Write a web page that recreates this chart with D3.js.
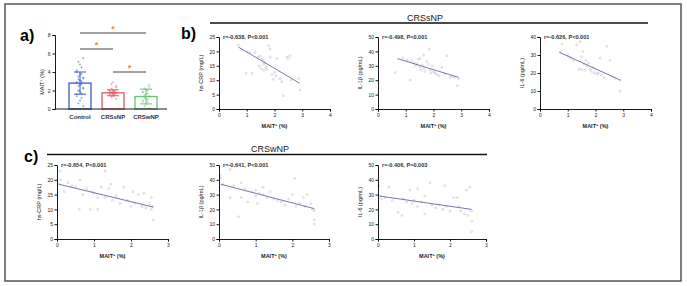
<!DOCTYPE html>
<html><head><meta charset="utf-8">
<script src="https://cdn.jsdelivr.net/npm/d3@7"></script>
<style>body{margin:0;background:#fff}svg{display:block;font-family:"Liberation Sans",Arial,sans-serif}</style>
</head><body><svg id="c" width="687" height="286"></svg>
<script>
// ---------- DATA ----------
const groups = ["Control", "CRSsNP", "CRSwNP"];
const groupMeans = [2.8, 1.75, 1.35];
const groupSD = [1.2, 0.32, 0.8];
const controlVals = [0.3,0.6,0.9,1.2,1.4,1.6,1.7,1.9,2.0,2.2,2.3,2.5,2.6,2.7,2.8,2.9,3.0,3.1,3.2,3.3,3.4,3.5,3.7,3.8,4.0,4.2,4.5,4.8,5.1,5.5];
const crssnpVals = [1.1,1.3,1.4,1.5,1.5,1.6,1.6,1.7,1.7,1.7,1.8,1.8,1.8,1.9,1.9,2.0,2.0,2.1,2.2,2.3,2.5,2.7,2.9];
const crswnpVals = [0.1,0.3,0.5,0.7,0.8,0.9,1.0,1.1,1.2,1.3,1.4,1.5,1.6,1.7,1.8,1.9,2.0,2.1,2.2,2.4,2.6];
const barTicks = [0, 2, 4, 6, 8];
const sigPairs = [[0, 2], [0, 1], [1, 2]];

const sNP_CRP = [[0.70,22.2],[0.82,20.5],[0.97,12.4],[1.18,12.4],[1.0,19.9],[1.12,19.6],[1.3,19.6],[1.4,18.0],[1.48,18.5],[1.55,17.2],[1.6,16.7],[1.6,15.5],[1.66,16.0],[1.62,13.5],[1.7,14.5],[1.72,13.8],[1.78,22.0],[1.84,20.8],[1.85,18.0],[1.9,12.0],[1.96,10.3],[2.0,12.8],[2.05,11.5],[2.08,17.5],[2.2,10.5],[2.26,9.5],[2.32,4.6],[2.45,18.0],[2.5,17.5],[2.55,18.5],[2.6,10.0],[2.87,10.6],[2.92,6.6],[1.45,15.0],[1.52,14.0]];
const sNP_IL1 = [[0.62,25.2],[0.9,35.5],[1.05,34],[1.16,20.1],[1.2,33],[1.3,32],[1.35,30],[1.4,31.5],[1.45,34.5],[1.5,29],[1.52,35],[1.55,27],[1.6,30.5],[1.64,37.5],[1.65,28],[1.7,26],[1.75,33],[1.82,31],[1.85,41.5],[1.88,27],[1.9,25],[1.95,30],[2.0,26],[2.05,25],[2.12,24],[2.2,23],[2.3,29],[2.4,24],[2.48,37],[2.6,22],[2.66,23],[2.75,22],[2.86,16.2],[2.9,21]];
const sNP_IL6 = [[0.72,31.5],[0.8,36.0],[1.0,30],[1.1,28.5],[1.2,27],[1.32,35.5],[1.44,37.4],[1.4,22],[1.5,29],[1.5,22],[1.55,32],[1.6,25],[1.62,21.5],[1.65,27],[1.7,24],[1.75,25.5],[1.8,22],[1.85,21],[1.9,23],[1.95,20],[2.0,22],[2.05,19.5],[2.1,20],[2.17,28.3],[2.2,19],[2.3,17.5],[2.41,34.8],[2.53,27],[2.6,18],[2.7,17],[2.89,16],[2.89,10]];
const wNP_CRP = [[0.05,18.5],[0.08,23],[0.1,20],[0.2,16],[0.3,19],[0.4,18],[0.5,17.5],[0.6,10],[0.62,20],[0.7,15],[0.8,17],[0.9,10],[0.95,16],[1.0,15.5],[1.1,10],[1.1,14],[1.2,17.5],[1.3,23],[1.3,14],[1.4,17],[1.45,18.5],[1.5,13],[1.6,14.5],[1.7,12],[1.8,17.5],[1.9,13],[2.0,11],[2.05,16],[2.1,12],[2.2,15],[2.3,11],[2.35,15.5],[2.4,10.5],[2.5,12],[2.55,14],[2.58,11],[2.6,6.5],[2.55,10]];
const wNP_IL1 = [[0.03,43],[0.05,41],[0.1,37],[0.3,47],[0.3,28],[0.4,36],[0.53,15],[0.6,38],[0.6,28],[0.7,34],[0.78,25],[0.9,32],[1.0,33],[1.0,29],[1.05,24],[1.1,31],[1.2,30],[1.2,35],[1.3,28],[1.4,32],[1.5,27],[1.6,26],[1.7,25],[1.8,23],[1.9,27],[2.0,30],[2.07,41],[2.1,22],[2.2,24],[2.3,28],[2.35,22],[2.4,30],[2.5,24],[2.55,20],[2.6,13],[2.6,10],[2.6,19]];
const wNP_IL6 = [[0.02,36],[0.05,29],[0.1,27],[0.2,28],[0.3,35],[0.4,26],[0.56,18],[0.66,16],[0.7,27],[0.8,25],[0.89,33],[0.95,24],[1.0,26],[1.1,34],[1.1,22],[1.2,25],[1.3,17],[1.3,29],[1.44,38],[1.5,23],[1.6,21],[1.7,23],[1.86,36],[1.8,20],[1.9,22],[2.0,19],[2.1,28],[2.2,28],[2.25,22],[2.3,19],[2.4,17],[2.46,33],[2.55,35],[2.5,16],[2.6,12],[2.6,5],[2.6,19]];

// fit lines [x1, y1, x2, y2] in data units
const fits = {
  b1: [0.7, 21.5, 2.9, 9.0], b2: [0.7, 35, 2.9, 22], b3: [0.7, 31.5, 2.9, 16],
  c1: [0.05, 18.5, 2.6, 10.8], c2: [0.05, 37, 2.6, 20.5], c3: [0.05, 29, 2.6, 20]
};
const stats = {
  b1: "r=-0.638, P<0.001", b2: "r=-0.498, P<0.001", b3: "r=-0.626, P<0.001",
  c1: "r=-0.654, P<0.001", c2: "r=-0.641, P<0.001", c3: "r=-0.406, P=0.003"
};
const yTitles = { CRP: "hs-CRP (mg/L)", IL1: "IL-1β (pg/mL)", IL6: "IL-6 (pg/mL)" };
const headers = ["CRSsNP", "CRSwNP"];

// ---------- DRAW ----------
const svg = d3.select("#c");
svg.append("rect").attr("x", 5).attr("y", 4).attr("width", 676).attr("height", 277)
  .attr("fill", "none").attr("stroke", "#555").attr("stroke-width", 1.5);

function styleAxis(g) {
  g.selectAll("path,line").attr("stroke", "#000").attr("stroke-width", 0.9);
  g.selectAll("text").attr("font-size", 5).attr("fill", "#222").attr("font-family", "Liberation Sans, Arial");
}

// Panel a
{
  const x0 = 55, x1 = 167, yTop = 35, yBot = 109;
  const x = d3.scalePoint().domain(groups).range([80, 146]);
  const y = d3.scaleLinear().domain([0, 8]).range([yBot, yTop]);
  const colors = ["#3a5bc7", "#e2575c", "#6cc07a"];
  const vals = [controlVals, crssnpVals, crswnpVals];
  const g = svg.append("g");
  groups.forEach((grp, i) => {
    const cx = x(grp);
    g.append("rect").attr("x", cx - 11).attr("width", 22).attr("y", y(groupMeans[i]))
      .attr("height", y(0) - y(groupMeans[i])).attr("fill", "#fff").attr("stroke", colors[i]).attr("stroke-width", 1.3);
    vals[i].forEach((v, k) => {
      const off = ((k % 5) - 2) * 1.6 * (k % 2 ? 1 : -1);
      g.append("path").attr("d", d3.symbol(d3.symbolCross, 3)())
        .attr("transform", `translate(${cx + off},${y(v)})`).attr("fill", colors[i]).attr("opacity", 0.55);
    });
    const hi = y(groupMeans[i] + groupSD[i]), lo = y(Math.max(0, groupMeans[i] - groupSD[i]));
    g.append("line").attr("x1", cx).attr("x2", cx).attr("y1", hi).attr("y2", lo).attr("stroke", colors[i]).attr("stroke-width", 1);
    [hi, lo].forEach(yy => g.append("line").attr("x1", cx - 6).attr("x2", cx + 6).attr("y1", yy).attr("y2", yy).attr("stroke", colors[i]).attr("stroke-width", 1));
  });
  const ay = g.append("g").attr("transform", `translate(${x0},0)`).call(d3.axisLeft(y).tickValues(barTicks).tickSize(2.5).tickPadding(2));
  styleAxis(ay);
  g.append("line").attr("x1", x0).attr("x2", x1).attr("y1", yBot).attr("y2", yBot).attr("stroke", "#000").attr("stroke-width", 0.9);
  groups.forEach(grp => g.append("text").attr("x", x(grp)).attr("y", 119).attr("text-anchor", "middle")
    .attr("font-size", 6).attr("font-weight", "bold").attr("fill", "#333").text(grp));
  g.append("text").attr("transform", `translate(44,${(yTop + yBot) / 2 + 10}) rotate(-90)`).attr("text-anchor", "middle")
    .attr("font-size", 5.5).attr("fill", "#222").html('MAIT<tspan baseline-shift="super" font-size="4">+</tspan> (%)');
  const levels = [33, 49, 72];
  sigPairs.forEach((p, j) => {
    const xa = x(groups[p[0]]), xb = x(groups[p[1]]);
    g.append("line").attr("x1", xa).attr("x2", xb).attr("y1", levels[j]).attr("y2", levels[j]).attr("stroke", "#444").attr("stroke-width", 1);
    g.append("text").attr("x", (xa + xb) / 2).attr("y", levels[j] - 1).attr("text-anchor", "middle")
      .attr("font-size", 9).attr("font-weight", "bold").attr("fill", "#f08a3a").text("*");
  });
  svg.append("text").attr("x", 20).attr("y", 41).attr("font-size", 16).attr("font-weight", "bold").text("a)");
}

function scatter(opt) {
  const x = d3.scaleLinear().domain([0, opt.xMax]).range([opt.ax, opt.ax + opt.w]);
  const y = d3.scaleLinear().domain([0, opt.yMax]).range([opt.yBot, opt.yTop]);
  const g = svg.append("g");
  g.selectAll("circle").data(opt.data).join("circle")
    .attr("cx", d => x(d[0])).attr("cy", d => y(d[1])).attr("r", 1.0)
    .attr("fill", "none").attr("stroke", "#c2c2c2").attr("stroke-width", 0.6);
  const f = opt.fit;
  g.append("line").attr("x1", x(f[0])).attr("y1", y(f[1])).attr("x2", x(f[2])).attr("y2", y(f[3]))
    .attr("stroke", "#6f7ea8").attr("stroke-width", 1);
  const axx = g.append("g").attr("transform", `translate(0,${opt.yBot})`).call(d3.axisBottom(x).ticks(opt.xMax).tickSize(2.5).tickPadding(1.5).tickFormat(d3.format("d")));
  styleAxis(axx);
  const axy = g.append("g").attr("transform", `translate(${opt.ax},0)`).call(d3.axisLeft(y).ticks(opt.yMax / opt.yStep).tickSize(2.5).tickPadding(1.5).tickFormat(d3.format("d")));
  styleAxis(axy);
  g.append("text").attr("x", opt.ax + 4).attr("y", opt.yTop + 2).attr("font-size", 5.6).attr("font-weight", "bold").attr("fill", "#333").text(opt.stat);
  g.append("text").attr("x", opt.ax + opt.w / 2).attr("y", opt.yBot + 19).attr("text-anchor", "middle")
    .attr("font-size", 5.5).attr("fill", "#222").attr("font-weight", "bold").html('MAIT<tspan baseline-shift="super" font-size="4">+</tspan> (%)');
  g.append("text").attr("transform", `translate(${opt.ax - 16},${(opt.yTop + opt.yBot) / 2}) rotate(-90)`).attr("text-anchor", "middle")
    .attr("font-size", 5.5).attr("fill", "#222").text(opt.yTitle);
}

// Panel b
svg.append("text").attr("x", 181).attr("y", 39).attr("font-size", 16).attr("font-weight", "bold").text("b)");
svg.append("text").attr("x", 425).attr("y", 21).attr("text-anchor", "middle").attr("font-size", 9).attr("fill", "#222").text(headers[0]);
svg.append("line").attr("x1", 210).attr("x2", 648).attr("y1", 23).attr("y2", 23).attr("stroke", "#111").attr("stroke-width", 1.6);
scatter({ ax: 219, w: 111, xMax: 4, yTop: 37, yBot: 109, yMax: 25, yStep: 5, data: sNP_CRP, fit: fits.b1, stat: stats.b1, yTitle: yTitles.CRP });
scatter({ ax: 378, w: 111, xMax: 4, yTop: 37, yBot: 109, yMax: 50, yStep: 10, data: sNP_IL1, fit: fits.b2, stat: stats.b2, yTitle: yTitles.IL1 });
scatter({ ax: 540, w: 111, xMax: 4, yTop: 37, yBot: 109, yMax: 40, yStep: 10, data: sNP_IL6, fit: fits.b3, stat: stats.b3, yTitle: yTitles.IL6 });

// Panel c
svg.append("text").attr("x", 24).attr("y", 162).attr("font-size", 16).attr("font-weight", "bold").text("c)");
svg.append("text").attr("x", 270).attr("y", 152).attr("text-anchor", "middle").attr("font-size", 9).attr("fill", "#222").text(headers[1]);
svg.append("line").attr("x1", 47).attr("x2", 487).attr("y1", 154.5).attr("y2", 154.5).attr("stroke", "#111").attr("stroke-width", 1.6);
scatter({ ax: 57, w: 111, xMax: 3, yTop: 165, yBot: 239, yMax: 25, yStep: 5, data: wNP_CRP, fit: fits.c1, stat: stats.c1, yTitle: yTitles.CRP });
scatter({ ax: 219, w: 110, xMax: 3, yTop: 165, yBot: 239, yMax: 50, yStep: 10, data: wNP_IL1, fit: fits.c2, stat: stats.c2, yTitle: yTitles.IL1 });
scatter({ ax: 378, w: 108, xMax: 3, yTop: 165, yBot: 239, yMax: 50, yStep: 10, data: wNP_IL6, fit: fits.c3, stat: stats.c3, yTitle: yTitles.IL6 });
</script></body></html>
